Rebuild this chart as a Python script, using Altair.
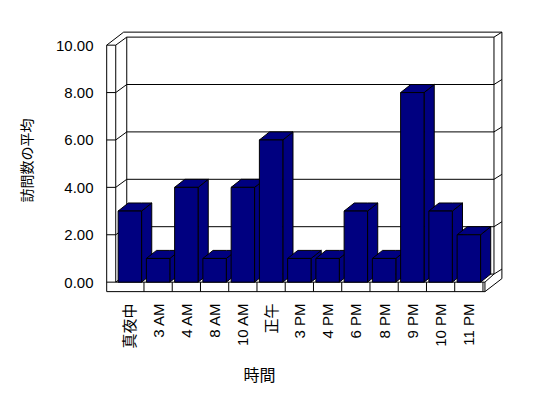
import json
import altair as alt
import pandas as pd

# ---- data ----
categories = ["真夜中", "3 AM", "4 AM", "8 AM", "10 AM", "正午", "3 PM",
              "4 PM", "6 PM", "8 PM", "9 PM", "10 PM", "11 PM"]
values = [3, 1, 4, 1, 4, 6, 1, 1, 3, 1, 8, 3, 2]
y_ticks = [0, 2, 4, 6, 8, 10]
y_title = "訪問数の平均"
x_title = "時間"

FONT = "Liberation Sans, Noto Sans CJK JP"
NAVY = "#000080"

# ---- 3-D geometry (in data units) ----
BW = 0.415            # half bar width
BDX, BDY = 0.36, 0.34  # bar depth offset
X0 = -0.5
X1 = len(categories) - 0.5
X1E = X1 + 0.07
TW = 0.32             # left wall thickness
DX, DY = 0.39, 0.34   # inner depth
ODX, ODY = 0.60, 0.55  # outer depth
TF = 0.40             # floor thickness
YMAX = 10

# bar faces as polygons (area marks)
faces = []
for i, v in enumerate(values):
    xa, xb = i - BW, i + BW
    g = f"{i:02d}"
    faces += [
        dict(g=g + "a", x=xb, y=v, y2=0),
        dict(g=g + "a", x=xb + BDX, y=v + BDY, y2=BDY),
        dict(g=g + "b", x=xa, y=v, y2=v),
        dict(g=g + "b", x=xa + BDX, y=v + BDY, y2=v),
        dict(g=g + "b", x=xb, y=v + BDY, y2=v),
        dict(g=g + "b", x=xb + BDX, y=v + BDY, y2=v + BDY),
        dict(g=g + "c", x=xa, y=v, y2=0),
        dict(g=g + "c", x=xb, y=v, y2=0),
    ]
faces_df = pd.DataFrame(faces)

# frame segments
segs = []
def seg(a, b, c, d):
    segs.append(dict(x=a, y=b, x2=c, y2=d))

seg(X0 - TW, -TF, X0 - TW, YMAX)
seg(X0, 0, X0, YMAX)
seg(X0 - TW, YMAX, X0, YMAX)
seg(X0 - TW, YMAX, X0 - TW + ODX, YMAX + ODY)
seg(X0, YMAX, X0 + DX, YMAX + DY)
seg(X0 - TW + ODX, YMAX + ODY, X1E + ODX, YMAX + ODY)
seg(X0 + DX, YMAX + DY, X1 + DX, YMAX + DY)
seg(X1 + DX, YMAX + DY, X1E + ODX, YMAX + ODY)
seg(X0 + DX, DY, X0 + DX, YMAX + DY)
seg(X1 + DX, DY, X1 + DX, YMAX + DY)
seg(X1E + ODX, -TF + ODY, X1E + ODX, YMAX + ODY)
for v in y_ticks[:-1]:
    seg(X0 - TW, v, X0, v)
    seg(X0, v, X0 + DX, v + DY)
    seg(X0 + DX, v + DY, X1 + DX, v + DY)
    seg(X1 + DX, v + DY, X1E + ODX, v + ODY)
seg(X0, 0, X1E, 0)
seg(X0 - TW, -TF, X1E, -TF)
seg(X1E, -TF, X1E, 0)
for k in range(1, len(categories) + 1):
    seg(X0 + k, -TF, X0 + k, 0)
seg(X1E, 0, X1 + DX, DY)
seg(X1E, -TF, X1E + ODX, -TF + ODY)
segs_df = pd.DataFrame(segs)

xs = alt.Scale(domain=[-0.88, 13.28], nice=False, zero=False)
ys = alt.Scale(domain=[-0.5, 10.64], nice=False, zero=False)

label_expr = json.dumps(categories, ensure_ascii=False) + "[datum.value]"

x_axis = alt.Axis(
    values=list(range(len(categories))), labelExpr=label_expr, labelAngle=270,
    labelFont=FONT, labelFontSize=15, labelColor="black", labelPadding=9,
    ticks=False, tickSize=0, domain=False, grid=False, labelOverlap=False,
    labelFlush=False, title=x_title, titleFont=FONT, titleFontSize=16,
    titleFontWeight="normal", titleColor="black", titleX=154, titleY=81,
    titleAlign="center", titleBaseline="middle",
)
y_axis = alt.Axis(
    values=y_ticks, format=".2f", labelFont=FONT, labelFontSize=15,
    labelColor="black", labelPadding=12, ticks=False, tickSize=0,
    domain=False, grid=False, labelFlush=False, labelOverlap=False,
    title=y_title, titleFont=FONT, titleFontSize=14, titleFontWeight="normal",
    titleColor="black", titleX=-78, titleY=130, titleAngle=270,
    titleAlign="center", titleBaseline="middle",
)

rules = alt.Chart(segs_df).mark_rule(color="black", strokeWidth=1).encode(
    x=alt.X("x:Q", scale=xs, axis=x_axis),
    x2="x2",
    y=alt.Y("y:Q", scale=ys, axis=y_axis),
    y2="y2",
)

bars = alt.Chart(faces_df).mark_area(
    fill=NAVY, stroke="black", strokeWidth=1, orient="vertical",
    interpolate="linear", strokeJoin="miter",
).encode(
    x=alt.X("x:Q", scale=xs, axis=x_axis),
    y=alt.Y("y:Q", scale=ys, axis=y_axis, stack=None),
    y2="y2",
    detail="g:N",
)

chart = alt.layer(rules, bars).properties(
    width=400, height=264,
    autosize=alt.AutoSizeParams(type="none"),
    padding={"left": 105, "top": 30, "right": 43, "bottom": 104},
    background="white",
).configure_view(stroke=None)

chart.save("out.html", embed_options={"renderer": "svg", "actions": False})
